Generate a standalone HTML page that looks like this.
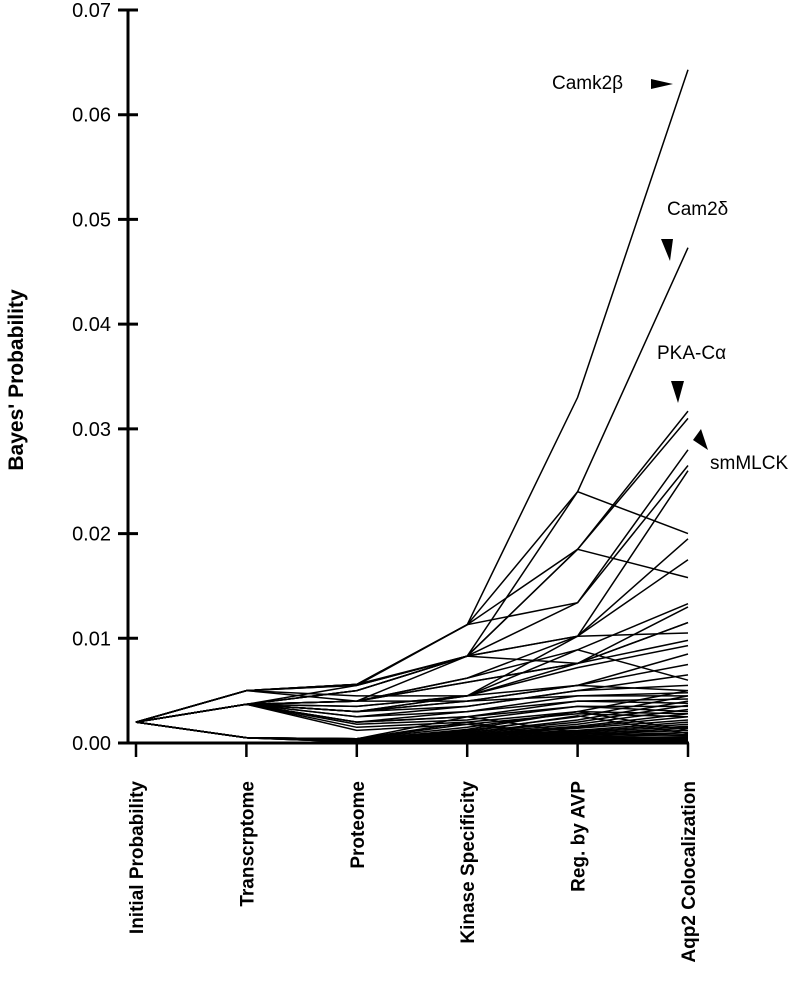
<!DOCTYPE html>
<html><head><meta charset="utf-8"><style>
html,body{margin:0;padding:0;background:#fff;}
svg text{font-family:"Liberation Sans",sans-serif;}
</style></head><body>
<svg id="chart" width="800" height="990" viewBox="0 0 800 990" xmlns="http://www.w3.org/2000/svg">
<g id="lines"></g>
<g id="axes"></g>
<text transform="translate(23,380) rotate(-90)" text-anchor="middle" font-size="21" font-weight="bold">Bayes' Probability</text>
<g>
<text x="552" y="89" font-size="19">Camk2β</text>
<polygon points="651,79 673,84 651,89" fill="#000"/>
<text x="667" y="215" font-size="19">Cam2δ</text>
<polygon points="661,239 673,239 670,261" fill="#000"/>
<text x="657" y="359" font-size="19">PKA-Cα</text>
<polygon points="671,381 684,381 678,403" fill="#000"/>
<text x="710" y="469" font-size="19">smMLCK</text>
<polygon points="693,440 701,429 708,450" fill="#000"/>
</g>
</svg>
<script>
const categories = ["Initial Probability","Transcrptome","Proteome","Kinase Specificity","Reg. by AVP","Aqp2 Colocalization"];
const yTicks = [0,0.01,0.02,0.03,0.04,0.05,0.06,0.07];
const yTickLabels = ["0.00","0.01","0.02","0.03","0.04","0.05","0.06","0.07"];
const seriesMajor = [
 [0.002,0.005,0.0056,0.0113,0.033,0.0643],
 [0.002,0.005,0.0056,0.0113,0.024,0.0473],
 [0.002,0.005,0.0056,0.0083,0.0185,0.0317],
 [0.002,0.005,0.0056,0.0113,0.0185,0.0310],
 [0.002,0.005,0.0055,0.0113,0.0134,0.0280],
 [0.002,0.005,0.0055,0.0083,0.0134,0.0265],
 [0.002,0.0037,0.0055,0.0083,0.0102,0.0260],
 [0.002,0.0037,0.005,0.0083,0.024,0.0200],
 [0.002,0.0037,0.005,0.0083,0.0185,0.0158],
 [0.002,0.0037,0.005,0.0083,0.0102,0.0195],
 [0.002,0.0037,0.004,0.0062,0.0102,0.0175],
 [0.002,0.0037,0.004,0.0062,0.0089,0.0133],
 [0.002,0.0037,0.004,0.0058,0.0076,0.0130],
 [0.002,0.0037,0.004,0.0058,0.0076,0.0115],
 [0.002,0.0037,0.0035,0.0045,0.0102,0.0105],
 [0.002,0.0037,0.0035,0.0045,0.0076,0.0098],
 [0.002,0.0037,0.003,0.0045,0.0072,0.0093],
 [0.002,0.0037,0.003,0.004,0.0055,0.0085],
 [0.002,0.0037,0.003,0.004,0.0055,0.0075],
 [0.002,0.0037,0.003,0.0035,0.005,0.0065],
 [0.002,0.0037,0.0025,0.0035,0.005,0.0055],
 [0.002,0.0037,0.0025,0.003,0.0045,0.0048],
 [0.002,0.0037,0.002,0.003,0.004,0.0042],
 [0.002,0.0037,0.002,0.0025,0.004,0.0038],
 [0.002,0.0037,0.002,0.0025,0.0035,0.0035],
 [0.002,0.0037,0.0018,0.0022,0.0035,0.0030],
 [0.002,0.005,0.0045,0.0045,0.0055,0.0050],
 [0.002,0.005,0.004,0.004,0.0045,0.0045],
 [0.002,0.0037,0.0015,0.0020,0.003,0.0028],
 [0.002,0.0037,0.0012,0.0018,0.0028,0.0025],
 [0.002,0.0037,0.004,0.0083,0.0076,0.0115],
 [0.002,0.0037,0.003,0.0045,0.0089,0.0060]
];
const seriesBulk = [
 [0.002,0.0005,0.0004,0.0015,0.0030,0.0050],
 [0.002,0.0005,0.0004,0.0012,0.0025,0.0045],
 [0.002,0.0005,0.0004,0.0010,0.0022,0.0040],
 [0.002,0.0005,0.0004,0.0010,0.0020,0.0036],
 [0.002,0.0005,0.0003,0.0009,0.0018,0.0032],
 [0.002,0.0005,0.0003,0.0008,0.0016,0.0028],
 [0.002,0.0005,0.0003,0.0008,0.0015,0.0025],
 [0.002,0.0005,0.0003,0.0007,0.0014,0.0022],
 [0.002,0.0005,0.0003,0.0007,0.0012,0.0020],
 [0.002,0.0005,0.0003,0.0006,0.0011,0.0018],
 [0.002,0.0005,0.0003,0.0006,0.0010,0.0016],
 [0.002,0.0005,0.0003,0.0005,0.0009,0.0014],
 [0.002,0.0005,0.0002,0.0005,0.0008,0.0012],
 [0.002,0.0005,0.0002,0.0004,0.0007,0.0010],
 [0.002,0.0005,0.0002,0.0004,0.0006,0.0008],
 [0.002,0.0005,0.0002,0.0003,0.0005,0.0006],
 [0.002,0.0005,0.0002,0.0003,0.0004,0.0005],
 [0.002,0.0005,0.0002,0.0002,0.0003,0.0004],
 [0.002,0.0005,0.0001,0.0002,0.0002,0.0003],
 [0.002,0.0005,0.0001,0.0001,0.0002,0.0002],
 [0.002,0.0005,0.0001,0.0001,0.0001,0.0001],
 [0.002,0.0005,0.0004,0.0020,0.0004,0.0010],
 [0.002,0.0005,0.0004,0.0018,0.0006,0.0015],
 [0.002,0.0005,0.0004,0.0025,0.0010,0.0007],
 [0.002,0.0005,0.0003,0.0013,0.0030,0.0012],
 [0.002,0.0005,0.0003,0.0011,0.0026,0.0009]
];
const X0=136, XSTEP=110.4, Y0=743, YTOP=10, YMAX=0.07;
function xScale(i){return X0+i*XSTEP;}
function yScale(v){return Y0-(v/YMAX)*(Y0-YTOP);}
const NS="http://www.w3.org/2000/svg";
const lines=document.getElementById('lines');
function drawSeries(arr,prefix){
 arr.forEach((s,k)=>{
  const p=document.createElementNS(NS,'polyline');
  p.setAttribute('points',s.map((v,i)=>xScale(i).toFixed(1)+','+yScale(v).toFixed(1)).join(' '));
  p.setAttribute('fill','none');p.setAttribute('stroke','#000');p.setAttribute('stroke-width','1.5');
  
  
  lines.appendChild(p);
 });
}
drawSeries(seriesMajor,'protein');
drawSeries(seriesBulk,'protein-low');
const axes=document.getElementById('axes');
function mk(tag,attrs){const e=document.createElementNS(NS,tag);for(const k in attrs)e.setAttribute(k,attrs[k]);axes.appendChild(e);return e;}
const yl=mk('line',{x1:128,y1:YTOP,x2:128,y2:Y0,stroke:'#000','stroke-width':3});


const xl=mk('line',{x1:127,y1:Y0,x2:xScale(5)+1,y2:Y0,stroke:'#000','stroke-width':3});


yTicks.forEach((v,i)=>{
 const y=yScale(v);
 const t=mk('line',{x1:118,y1:y,x2:138,y2:y,stroke:'#000','stroke-width':3});
 
 
 const tx=mk('text',{x:111,y:y+7,'text-anchor':'end','font-size':'20'});
 tx.textContent=yTickLabels[i];
 
 
});
categories.forEach((c,i)=>{
 const x=xScale(i);
 const t=mk('line',{x1:x,y1:Y0,x2:x,y2:Y0+14,stroke:'#000','stroke-width':2.5});
 
 
 const tx=mk('text',{transform:'translate('+(x+7)+',781) rotate(-90)','text-anchor':'end','font-size':'19','font-weight':'bold'});
 tx.textContent=c;
 
 
});
</script>
</body></html>
